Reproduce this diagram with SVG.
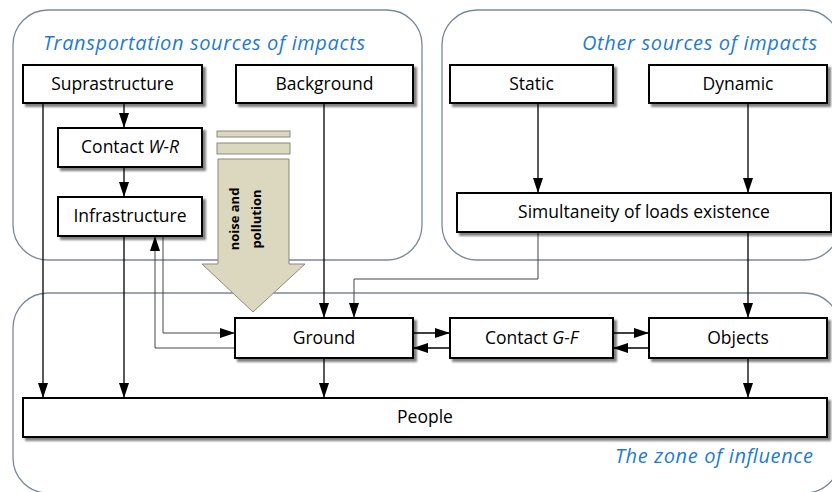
<svg xmlns="http://www.w3.org/2000/svg" width="832" height="492" viewBox="0 0 832 492">
<defs>
<marker id="ah" markerUnits="userSpaceOnUse" markerWidth="16" markerHeight="12" refX="15" refY="5" orient="auto">
<path d="M0,0 L15,5 L0,10 Z" fill="#000"/>
</marker>
<filter id="sh" x="-5%" y="-20%" width="115%" height="150%">
<feGaussianBlur in="SourceAlpha" stdDeviation="1"/>
<feOffset dx="3" dy="3" result="o"/>
<feComponentTransfer><feFuncA type="linear" slope="0.5"/></feComponentTransfer>
<feMerge><feMergeNode/><feMergeNode in="SourceGraphic"/></feMerge>
</filter>
</defs>
<style>
.zone{fill:none;stroke:#7b889a;stroke-width:1.3}
.zt{font-family:"Open Sans",sans-serif;font-style:italic;font-size:20px;fill:#1f7bd1}
.box{fill:#fff;stroke:#000;stroke-width:2;filter:url(#sh)}
.t{font-family:"Open Sans",sans-serif;font-size:17.5px;fill:#000;text-anchor:middle}
.c{fill:none;stroke:#000;stroke-width:1.3;marker-end:url(#ah)}
.c2{fill:none;stroke:#444;stroke-width:1;marker-end:url(#ah)}
.np{fill:#dcd8c0;stroke:#8a8a7c;stroke-width:1}
.nt{font-family:"Open Sans",sans-serif;font-weight:bold;font-size:13px;fill:#000;text-anchor:middle}
</style>
<g id="zones">
<rect class="zone" x="13" y="10" width="409" height="250" rx="35"/>
<rect class="zone" x="442" y="10" width="398" height="250" rx="35"/>
<rect class="zone" x="13" y="293" width="827" height="200" rx="35"/>
<text class="zt" x="43" y="50" textLength="322" lengthAdjust="spacing">Transportation sources of impacts</text>
<text class="zt" x="582" y="50" textLength="235" lengthAdjust="spacing">Other sources of impacts</text>
<text class="zt" x="615" y="463" textLength="198" lengthAdjust="spacing">The zone of influence</text>
</g>
<g id="connectors">
<path class="c" d="M124,103 V128"/>
<path class="c" d="M124,167 V197"/>
<path class="c" d="M43,103 V398"/>
<path class="c" d="M124,236 V398"/>
<path class="c2" d="M163,236 V333 H235"/>
<path class="c2" d="M235,348 H155 V236"/>
<path class="c" d="M324,103 V318"/>
<path class="c2" d="M538,232 V279 H354 V318"/>
<path class="c" d="M538,103 V193"/>
<path class="c" d="M748,103 V193"/>
<path class="c" d="M748,232 V318"/>
<path class="c" d="M324,358 V398"/>
<path class="c" d="M748,358 V398"/>
<path class="c" d="M413,333 H450"/>
<path class="c" d="M450,348 H413"/>
<path class="c" d="M613,333 H649"/>
<path class="c" d="M649,348 H613"/>
</g>
<g id="noise">
<rect class="np" x="217" y="131" width="73" height="6"/>
<rect class="np" x="217" y="143" width="73" height="11"/>
<path class="np" d="M218,159 H289 V264 H305 L253,312 L202,264 H218 Z"/>
<text class="nt" transform="translate(238.5,219) rotate(-90)">noise and</text>
<text class="nt" transform="translate(261,219) rotate(-90)">pollution</text>
</g>
<g id="suprastructure"><rect class="box" x="23" y="65" width="179" height="38"/><text class="t" x="112.5" y="90">Suprastructure</text></g>
<g id="background"><rect class="box" x="236" y="65" width="177" height="38"/><text class="t" x="324.5" y="90">Background</text></g>
<g id="contact-wr"><rect class="box" x="58" y="128" width="144" height="39"/><text class="t" x="130" y="153">Contact <tspan font-style="italic">W-R</tspan></text></g>
<g id="infrastructure"><rect class="box" x="58" y="197" width="144" height="39"/><text class="t" x="130" y="222">Infrastructure</text></g>
<g id="static"><rect class="box" x="450" y="65" width="163" height="38"/><text class="t" x="531.5" y="90">Static</text></g>
<g id="dynamic"><rect class="box" x="649" y="65" width="178" height="38"/><text class="t" x="738" y="90">Dynamic</text></g>
<g id="simultaneity"><rect class="box" x="457" y="193" width="374" height="39"/><text class="t" x="644" y="218">Simultaneity of loads existence</text></g>
<g id="ground"><rect class="box" x="235" y="318" width="178" height="40"/><text class="t" x="324" y="344">Ground</text></g>
<g id="contact-gf"><rect class="box" x="450" y="318" width="163" height="40"/><text class="t" x="531.5" y="344">Contact <tspan font-style="italic">G-F</tspan></text></g>
<g id="objects"><rect class="box" x="649" y="318" width="178" height="40"/><text class="t" x="738" y="344">Objects</text></g>
<g id="people"><rect class="box" x="23" y="398" width="804" height="39"/><text class="t" x="425" y="423">People</text></g>
</svg>
